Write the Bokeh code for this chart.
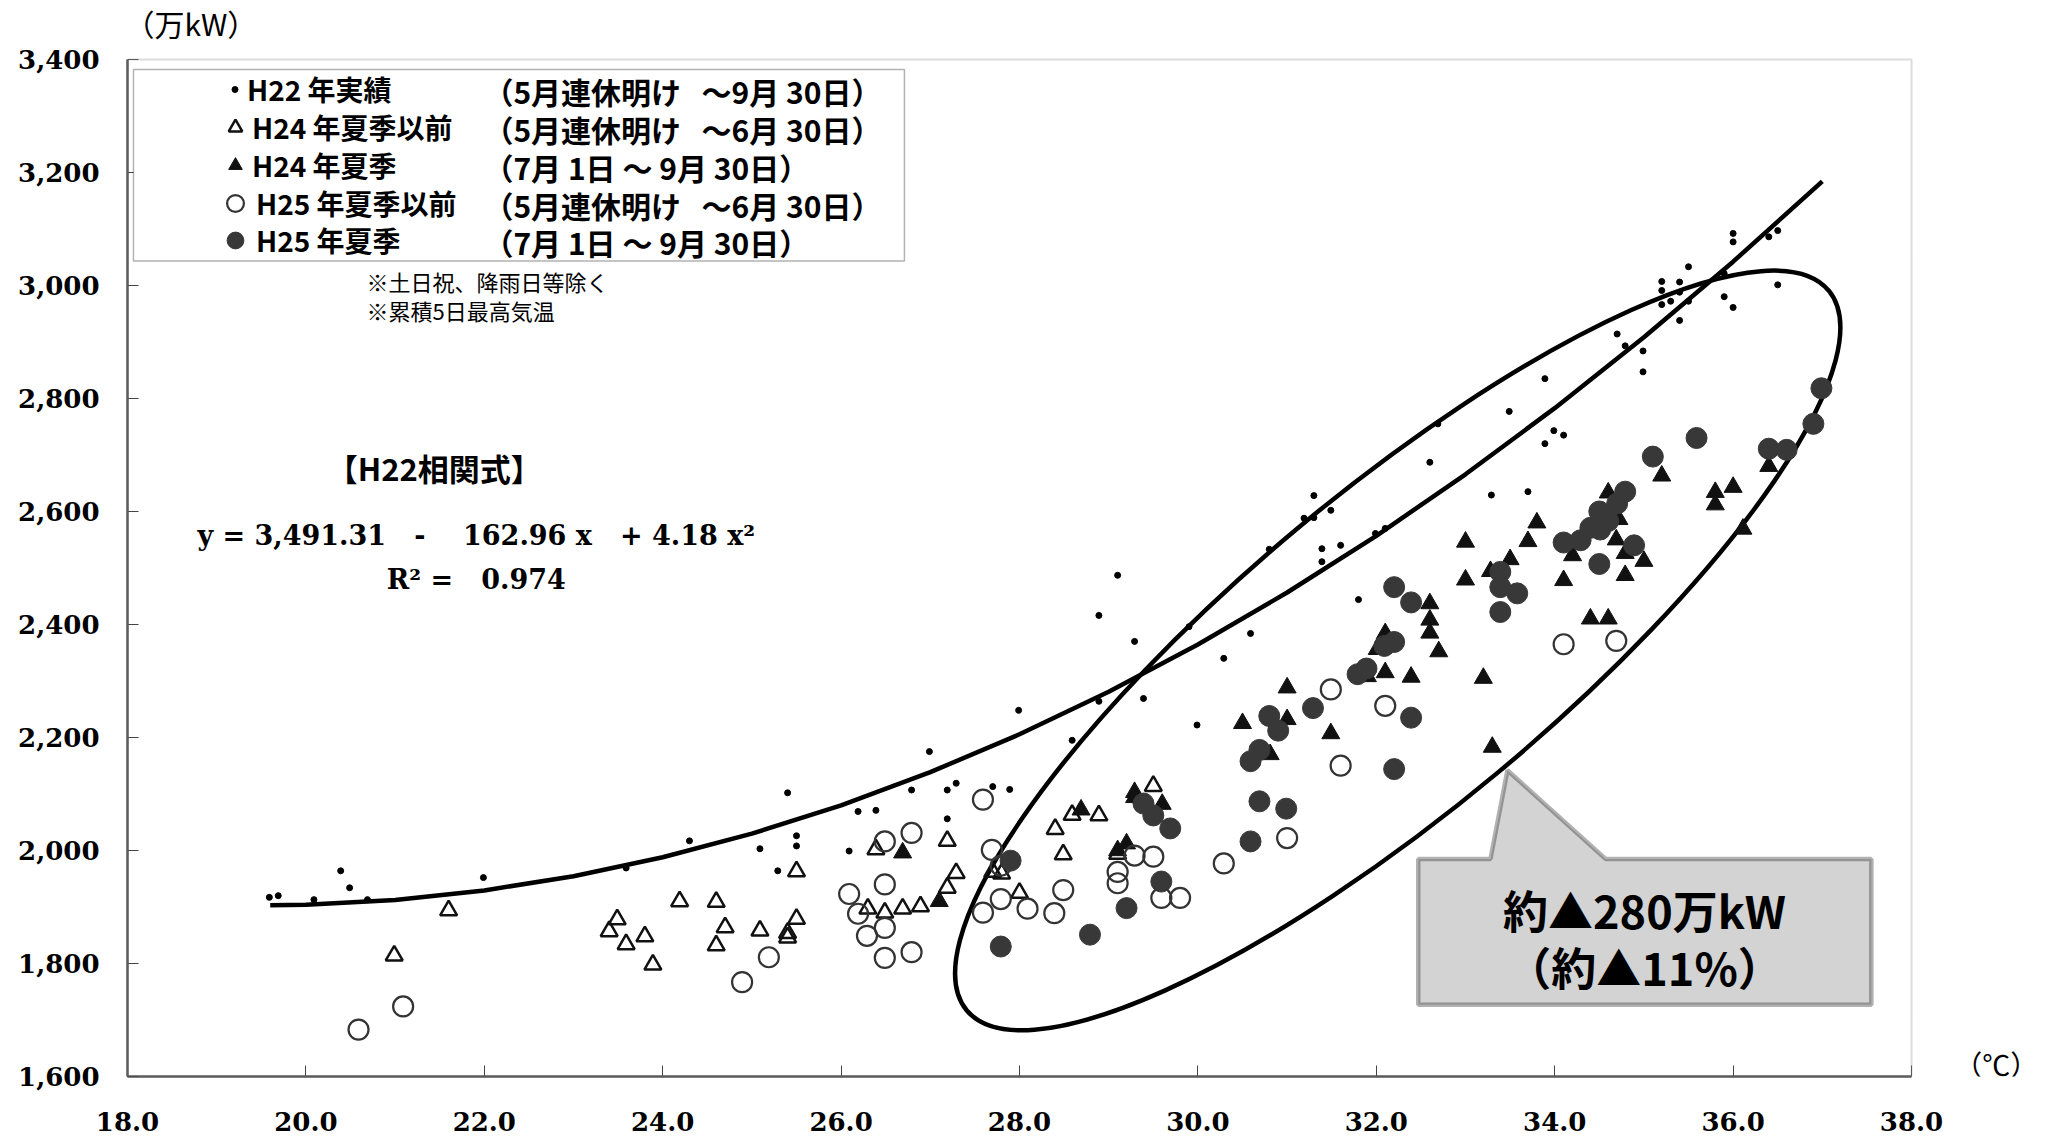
from bokeh.plotting import figure
from bokeh.models import (Range1d, Legend, LegendItem, Label, BoxAnnotation,
                          PolyAnnotation, NumeralTickFormatter, FixedTicker)
from bokeh.embed import file_html
from bokeh.resources import INLINE

# ---------------- data ----------------
XTICKS = [18, 20, 22, 24, 26, 28, 30, 32, 34, 36, 38]
YTICKS = [1600, 1800, 2000, 2200, 2400, 2600, 2800, 3000, 3200, 3400]

# H22 actual (small dots)
H22_X = [19.59, 19.69, 20.09, 20.39, 20.49, 20.69, 21.99, 23.59, 24.30, 25.09,
         25.29, 25.40, 25.50, 25.50, 26.09, 26.19, 26.39, 26.79, 26.99, 27.19,
         27.19, 27.29, 27.70, 27.89, 27.99, 28.59, 28.89, 28.89, 29.10, 29.29,
         29.39, 29.90, 29.99, 30.29, 30.59, 30.80, 31.19, 31.30, 31.30, 31.39,
         31.39, 31.49, 31.60, 31.80, 31.99, 32.10, 32.60, 32.69, 33.29, 33.49,
         33.70, 33.89, 33.89, 33.99, 34.10, 34.70, 34.79, 34.99, 34.99, 35.20,
         35.20, 35.20, 35.30, 35.40, 35.40, 35.40, 35.50, 35.50, 35.90, 35.90,
         36.00, 36.00, 36.00, 36.40, 36.50, 36.50]
H22_Y = [1917, 1920, 1913, 1964, 1934, 1913, 1952, 1969, 2017, 2003,
         1964, 2102, 2026, 2008, 1999, 2069, 2071, 2107, 2175, 2107,
         2056, 2119, 2113, 2108, 2248, 2195, 2416, 2264, 2487, 2370,
         2269, 2396, 2222, 2340, 2384, 2533, 2588, 2628, 2589, 2534,
         2511, 2602, 2540, 2444, 2561, 2570, 2687, 2755, 2629, 2777,
         2635, 2835, 2720, 2743, 2735, 2914, 2893, 2884, 2847, 3007,
         2991, 2966, 2972, 3006, 2988, 2938, 3033, 2972, 3021, 2980,
         3092, 3077, 2961, 3086, 3097, 3001]

# H24 before summer (open triangles)
H24PRE_X = [20.99, 21.60, 23.40, 23.49, 23.59, 23.80, 23.89, 24.19, 24.60, 24.60,
            24.70, 25.09, 25.40, 25.40, 25.50, 25.50, 26.30, 26.39, 26.49, 26.69,
            26.89, 27.19, 27.19, 27.29, 27.70, 27.80, 28.00, 28.40, 28.49, 28.59,
            28.89, 29.10, 29.50]
H24PRE_Y = [1814, 1894, 1857, 1878, 1834, 1848, 1798, 1910, 1909, 1832,
            1864, 1858, 1854, 1846, 1963, 1879, 1897, 2002, 1890, 1897,
            1901, 2017, 1934, 1960, 1962, 1959, 1925, 2038, 1993, 2063,
            2062, 1994, 2114]

# H24 summer (filled triangles)
H24SUM_X = [26.69, 27.10, 28.69, 29.10, 29.20, 29.29, 29.29, 29.60, 30.50, 30.81,
            31.00, 31.00, 31.49, 31.90, 32.01, 32.10, 32.10, 32.39, 32.60, 32.60,
            32.60, 32.70, 33.00, 33.00, 33.20, 33.28, 33.30, 33.50, 33.70, 33.80,
            34.10, 34.20, 34.40, 34.60, 34.60, 34.69, 34.72, 34.79, 34.79, 35.00,
            35.20, 35.80, 35.80, 36.00, 36.11, 36.40]
H24SUM_Y = [1996, 1910, 2072, 2000, 2012, 2103, 2094, 2082, 2225, 2170,
            2288, 2232, 2207, 2308, 2356, 2384, 2315, 2307, 2437, 2408,
            2385, 2352, 2546, 2479, 2305, 2494, 2183, 2515, 2547, 2580,
            2478, 2522, 2410, 2410, 2633, 2550, 2586, 2526, 2487, 2512,
            2663, 2634, 2612, 2643, 2569, 2680]

# H25 before summer (open circles)
H25PRE_X = [20.59, 21.09, 24.89, 25.19, 26.09, 26.19, 26.29, 26.49, 26.49, 26.49,
            26.49, 26.79, 26.79, 27.59, 27.59, 27.69, 27.79, 27.79, 28.09, 28.39,
            28.49, 29.10, 29.10, 29.29, 29.50, 29.59, 29.80, 30.29, 31.00, 31.49,
            31.60, 32.10, 34.10, 34.69]
H25PRE_Y = [1683, 1724, 1767, 1811, 1923, 1888, 1849, 2016, 1940, 1863,
            1810, 2031, 1820, 2090, 1890, 2001, 1973, 1914, 1897, 1889,
            1930, 1962, 1942, 1991, 1989, 1916, 1916, 1977, 2022, 2285,
            2150, 2256, 2365, 2371]

# H25 summer (filled circles)
H25SUM_X = [27.79, 27.90, 28.79, 29.20, 29.39, 29.50, 29.59, 29.69, 30.59, 30.59,
            30.69, 30.69, 30.80, 30.90, 30.99, 31.29, 31.79, 31.89, 32.09, 32.20,
            32.20, 32.20, 32.39, 32.39, 33.39, 33.39, 33.39, 33.58, 34.10, 34.29,
            34.40, 34.50, 34.50, 34.51, 34.60, 34.70, 34.79, 34.89, 35.10, 35.59,
            36.40, 36.60, 36.90, 36.99]
H25SUM_Y = [1830, 1982, 1851, 1898, 2083, 2062, 1945, 2039, 2158, 2016,
            2178, 2087, 2238, 2212, 2074, 2252, 2312, 2322, 2362, 2466,
            2369, 2144, 2439, 2235, 2493, 2466, 2422, 2455, 2545, 2549,
            2571, 2600, 2507, 2568, 2583, 2614, 2635, 2540, 2697, 2730,
            2711, 2709, 2755, 2818]

# H22 correlation curve
CURVE_X = [19.6, 20, 21, 22, 23, 24, 25, 26, 27, 28, 29, 30, 31, 32, 33, 34, 35, 36, 37]
CURVE_Y = [1903.1, 1904.1, 1912.5, 1929.3, 1954.5, 1988.0, 2029.8, 2080.0, 2138.6,
           2205.6, 2280.9, 2364.5, 2456.5, 2556.9, 2665.7, 2782.8, 2908.2, 3042.0, 3184.2]

NB = "\u00a0"
LEGEND_LABELS = ["H22 年実績", "H24 年夏季以前", "H24 年夏季", "H25 年夏季以前", "H25 年夏季"]
LEGEND_PERIODS = ["（5月連休明け" + NB * 3 + "～9月" + NB + "30日）",
                  "（5月連休明け" + NB * 3 + "～6月" + NB + "30日）",
                  "（7月" + NB + "1日" + NB + "～" + NB + "9月" + NB + "30日）",
                  "（5月連休明け" + NB * 3 + "～6月" + NB + "30日）",
                  "（7月" + NB + "1日" + NB + "～" + NB + "9月" + NB + "30日）"]

# ---------------- figure ----------------
# frame extended beyond the drawn axes box so that outside texts are not clipped
X0, X1, XEND = 18, 38, 39.446
Y0, Y1, YEND = 1600, 3400, 3498.9
p = figure(width=2040, height=1143, output_backend="svg", toolbar_location=None,
           x_range=Range1d(X0, XEND), y_range=Range1d(Y0, YEND),
           min_border_left=127, min_border_right=0, min_border_top=3,
           min_border_bottom=67)
p.title.visible = False
p.xgrid.visible = False
p.ygrid.visible = False
p.background_fill_color = "white"
p.border_fill_color = "white"
p.outline_line_color = None

for ax in (p.xaxis, p.yaxis):
    ax.major_tick_in = 11
    ax.major_tick_out = 0
    ax.minor_tick_line_color = None
    ax.major_tick_line_color = "#444444"
    ax.major_tick_line_width = 1
    ax.axis_line_color = "#555555"
    ax.axis_line_width = 2.5
    ax.major_label_text_font = "DejaVu Serif"
    ax.major_label_text_font_style = "bold"
    ax.major_label_text_font_size = "26px"
    ax.major_label_text_color = "black"
p.xaxis.bounds = (X0, X1)
p.yaxis.bounds = (Y0, Y1)
p.xaxis.ticker = FixedTicker(ticks=XTICKS)
p.yaxis.ticker = FixedTicker(ticks=YTICKS)
p.xaxis.formatter = NumeralTickFormatter(format="0.0")
p.yaxis.formatter = NumeralTickFormatter(format="0,0")
p.xaxis.major_label_standoff = 35
p.yaxis.major_label_standoff = 28

# plot-area box
p.add_layout(BoxAnnotation(left=X0, right=X1, bottom=Y0, top=Y1, fill_alpha=0,
                           line_color="#8c8c8c", line_width=2))

# regression curve
p.line(CURVE_X, CURVE_Y, line_color="black", line_width=4.5)

# highlight ellipse
p.ellipse(x=[32.24], y=[2354], width=1123, height=316, width_units="screen",
          height_units="screen", angle=0.696, fill_alpha=0,
          line_color="black", line_width=4.5)

r1 = p.scatter(H22_X, H22_Y, marker="circle", size=6, color="black")
r2 = p.scatter(H24PRE_X, H24PRE_Y, marker="triangle", size=17, fill_alpha=0,
               line_color="#111111", line_width=2.5)
r3 = p.scatter(H24SUM_X, H24SUM_Y, marker="triangle", size=18, fill_color="#111111",
               line_color="#111111", line_width=1)
r4 = p.scatter(H25PRE_X, H25PRE_Y, marker="circle", size=20, fill_alpha=0,
               line_color="#333333", line_width=2.2)
r5 = p.scatter(H25SUM_X, H25SUM_Y, marker="circle", size=21, fill_color="#383838",
               line_color="#383838", line_width=1)

# legend box
p.add_layout(BoxAnnotation(left=18.067, right=26.71, top=3382, bottom=3043,
                           fill_color="white", fill_alpha=1,
                           line_color="black", line_width=1.5))
row_bottoms = [965, 927, 889, 851, 814]
row_y = [3343.5, 3276.3, 3209.2, 3142.1, 3076.7]
glyph_w = [15, 34, 34, 42, 42]
for lab, rend, bot, per, yy, gw in zip(LEGEND_LABELS, [r1, r2, r3, r4, r5], row_bottoms,
                                       LEGEND_PERIODS, row_y, glyph_w):
    lg = Legend(items=[LegendItem(label=lab, renderers=[rend])],
                location=(int(108 - gw / 2), bot),
                padding=0, spacing=0, margin=0, glyph_width=gw, glyph_height=44,
                label_height=44, label_standoff=int(13 - gw / 2),
                label_text_font="Noto Sans CJK JP", label_text_font_style="bold",
                label_text_font_size="28px", label_text_color="black",
                border_line_alpha=0, background_fill_alpha=0)
    p.add_layout(lg, "center")
    p.add_layout(Label(x=21.99, y=yy, text=per, text_align="left",
                       text_baseline="middle", text_font="Noto Sans CJK JP",
                       text_font_style="bold", text_font_size="30px",
                       text_color="black"))

# notes
for txt, yy in [("※土日祝、降雨日等除く", 3007.8), ("※累積5日最高気温", 2956.6)]:
    p.add_layout(Label(x=20.68, y=yy, text=txt, text_align="left",
                       text_baseline="middle", text_font="Noto Sans CJK JP",
                       text_font_size="22px", text_color="black"))

# correlation formula
p.add_layout(Label(x=21.44, y=2677.5, text="【H22相関式】", text_align="center",
                   text_baseline="middle", text_font="Noto Sans CJK JP",
                   text_font_style="bold", text_font_size="31px", text_color="black"))
eq = "y = 3,491.31" + NB * 3 + "-" + NB * 3 + " 162.96 x" + NB * 2 + " + 4.18 x²"
p.add_layout(Label(x=21.91, y=2557.4, text=eq,
                   text_align="center", text_baseline="middle", text_font="DejaVu Serif",
                   text_font_style="bold", text_font_size="27px", text_color="black"))
p.add_layout(Label(x=21.91, y=2479.7, text="R² =" + NB * 3 + "0.974",
                   text_align="center", text_baseline="middle", text_font="DejaVu Serif",
                   text_font_style="bold", text_font_size="27px", text_color="black"))

# axis unit labels
p.add_layout(Label(x=18.71, y=3465, text="（万kW）", text_align="center",
                   text_baseline="middle", text_font="Noto Sans CJK JP",
                   text_font_size="30px", text_color="black"))
p.add_layout(Label(x=38.95, y=1623, text="（℃）", text_align="center",
                   text_baseline="middle", text_font="Noto Sans CJK JP",
                   text_font_size="28px", text_color="black"))

# callout
p.add_layout(PolyAnnotation(xs=[32.47, 32.47, 33.28, 33.47, 34.57, 37.55, 37.55],
                            ys=[1727, 1985, 1985, 2142, 1985, 1985, 1727],
                            fill_color="#d3d3d3", fill_alpha=1,
                            line_color="black", line_width=4.5))
p.add_layout(Label(x=35.007, y=1895, text="約▲280万kW", text_align="center",
                   text_baseline="middle", text_font="Noto Sans CJK JP",
                   text_font_style="bold", text_font_size="45px", text_color="black"))
p.add_layout(Label(x=35.007, y=1794, text="（約▲11%）", text_align="center",
                   text_baseline="middle", text_font="Noto Sans CJK JP",
                   text_font_style="bold", text_font_size="45px", text_color="black"))

open("out.html", "w").write(file_html(p, INLINE))
